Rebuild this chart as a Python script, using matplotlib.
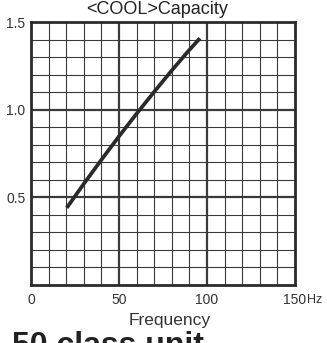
import numpy as np
import matplotlib.pyplot as plt

plt.rcParams['font.family'] = ['Liberation Sans', 'DejaVu Sans']

# capacity curve
freq = [20.3, 30, 40, 50, 60, 70, 80, 90, 96]
capacity = [0.44, 0.577, 0.714, 0.848, 0.977, 1.102, 1.224, 1.341, 1.407]

x_ticks = [0, 50, 100, 150]
x_labels = ['0', '50', '100', '150']
y_ticks = [0.5, 1.0, 1.5]
y_labels = ['0.5', '1.0', '1.5']

W, H = 327, 343
fig = plt.figure(figsize=(W / 100, H / 100), dpi=100)
ax = fig.add_axes([31 / W, (H - 285) / H, 264 / W, 263 / H])

grid_col = '#3a3a3a'
for v in np.arange(10, 150, 10):
    lw = 1.6 if v % 50 == 0 else 0.8
    ax.axvline(v, color=grid_col, lw=lw, zorder=1)
for v in np.arange(0.1, 1.5, 0.1):
    major = abs(v - 0.5) < 1e-6 or abs(v - 1.0) < 1e-6
    ax.axhline(v, color=grid_col, lw=1.6 if major else 0.8, zorder=1)

ax.plot(freq, capacity, color='#2a2a2a', lw=2.7, solid_capstyle='butt', zorder=3)

ax.set_xlim(0, 150)
ax.set_ylim(0, 1.5)
for s in ax.spines.values():
    s.set_linewidth(2)
    s.set_color('#2a2a2a')

ax.set_xticks(x_ticks)
ax.set_xticklabels(x_labels)
ax.set_yticks(y_ticks)
ax.set_yticklabels(y_labels)
ax.tick_params(length=0, labelsize=10, colors='#333333')
ax.tick_params(axis='x', pad=6)
ax.tick_params(axis='y', pad=4)

fig.text(307 / W, 1 - 303 / H, 'Hz', fontsize=9, color='#333333', va='baseline', ha='left')
fig.text(170 / W, 1 - 320 / H, 'Frequency', fontsize=12.5, color='#333333', ha='center', va='center')
fig.text(157 / W, 1 - 13.5 / H, '<COOL>Capacity', fontsize=13, color='#222222', ha='center', va='baseline')
fig.text(12 / W, 1 - 354 / H, '50 class unit', fontsize=23, fontweight='bold',
         color='#222222', ha='left', va='baseline')

fig.savefig('out.png', dpi=100)
